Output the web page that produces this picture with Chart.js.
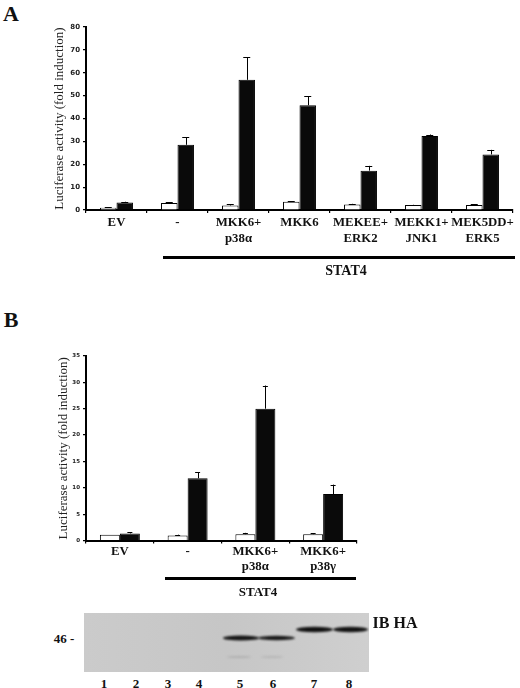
<!DOCTYPE html>
<html><head><meta charset="utf-8">
<script src="https://cdn.jsdelivr.net/npm/chart.js@4.4.1/dist/chart.umd.min.js"></script>
<style>
html,body{margin:0;padding:0;background:#fff;}
body{width:520px;height:688px;position:relative;overflow:hidden;font-family:'Liberation Serif','Times New Roman',serif;}
canvas{position:absolute;}
.lbl{position:absolute;font-weight:bold;color:#111;white-space:nowrap;transform:translate(-50%,-50%);line-height:1;}
.rule{position:absolute;background:#000;}
</style></head><body>
<canvas id="cA" width="472" height="290" style="left:48px;top:0px;width:472px;height:290px;"></canvas>
<canvas id="cB" width="318" height="300" style="left:52px;top:300px;width:318px;height:300px;"></canvas>
<canvas id="blot" width="285" height="59" style="left:84px;top:613px;width:285px;height:59px;"></canvas>

<div class="lbl" style="left:11px;top:14px;font-size:22px;">A</div>
<div class="lbl" style="left:11px;top:320px;font-size:22px;">B</div>

<div class="rule" style="left:163px;top:255.5px;width:352px;height:3px;"></div>
<div class="lbl" style="left:346px;top:271px;font-size:14px;">STAT4</div>
<div class="rule" style="left:165px;top:576.5px;width:191px;height:3px;"></div>
<div class="lbl" style="left:258px;top:591px;font-size:13px;">STAT4</div>

<div class="lbl" style="left:64px;top:638px;font-size:13px;">46 -</div>
<div class="lbl" style="left:395px;top:623px;font-size:16px;">IB HA</div>
<div id="lanes"></div>

<script>
// ---------- Data ----------
const categoriesA = ['EV', '-', ['MKK6+', 'p38α'], 'MKK6', ['MEKEE+', 'ERK2'], ['MEKK1+', 'JNK1'], ['MEK5DD+', 'ERK5']];
const whiteA    = [1.0, 3.1, 2.0, 3.6, 2.4, 2.2, 2.2];
const whiteErrA = [0.2, 0.2, 0.5, 0.3, 0.3, 0.1, 0.3];
const blackA    = [3.3, 28.5, 56.9, 45.8, 17.2, 32.3, 24.3];
const blackErrA = [0.3, 3.2, 9.9, 3.9, 2.1, 0.7, 2.0];
const yTicksA   = [0, 10, 20, 30, 40, 50, 60, 70, 80];

const categoriesB = ['EV', '-', ['MKK6+', 'p38α'], ['MKK6+', 'p38γ']];
const whiteB    = [1.1, 0.95, 1.2, 1.2];
const whiteErrB = [0.0, 0.15, 0.25, 0.15];
const blackB    = [1.35, 11.8, 25.0, 8.8];
const blackErrB = [0.25, 1.1, 4.4, 1.8];
const yTicksB   = [0, 5, 10, 15, 20, 25, 30, 35];

const laneNumbers = ['1', '2', '3', '4', '5', '6', '7', '8'];
const yTitle = 'Luciferase activity (fold induction)';

// ---------- Error bar plugin ----------
const errorBars = {
  id: 'errorBars',
  afterDatasetsDraw(chart, args, opts) {
    const ctx = chart.ctx, y = chart.scales.y;
    chart.data.datasets.forEach((ds, i) => {
      const meta = chart.getDatasetMeta(i);
      meta.data.forEach((bar, j) => {
        const err = ds.errors[j];
        if (!err) return;
        const top = y.getPixelForValue(ds.data[j] + err);
        ctx.save();
        ctx.strokeStyle = '#000';
        ctx.lineWidth = 1;
        ctx.beginPath();
        ctx.moveTo(Math.round(bar.x) + 0.5, bar.y);
        ctx.lineTo(Math.round(bar.x) + 0.5, top);
        ctx.moveTo(bar.x - opts.cap, Math.round(top) + 0.5);
        ctx.lineTo(bar.x + opts.cap, Math.round(top) + 0.5);
        ctx.stroke();
        ctx.restore();
      });
    });
  }
};

function makeChart(id, cfg) {
  return new Chart(document.getElementById(id), {
    type: 'bar',
    data: {
      labels: cfg.labels,
      datasets: [
        { data: cfg.white, errors: cfg.whiteErr, backgroundColor: '#ffffff', borderColor: '#000', borderWidth: 1,
          borderSkipped: 'bottom', categoryPercentage: cfg.catPct, barPercentage: 1 },
        { data: cfg.black, errors: cfg.blackErr, backgroundColor: '#0a0a0a', borderColor: '#000', borderWidth: 1,
          borderSkipped: 'bottom', categoryPercentage: cfg.catPct, barPercentage: 1 }
      ]
    },
    options: {
      responsive: false,
      animation: false,
      devicePixelRatio: 1,
      layout: { padding: { top: cfg.padTop, right: cfg.padRight, bottom: 0, left: 0 } },
      plugins: { legend: { display: false }, tooltip: { enabled: false }, errorBars: { cap: cfg.cap } },
      scales: {
        x: {
          grid: { display: true, drawOnChartArea: false, drawTicks: true, tickLength: 3, color: '#000', lineWidth: 1.2 },
          border: { display: true, color: '#000', width: 2 },
          ticks: {
            autoSkip: false, maxRotation: 0, minRotation: 0, padding: cfg.xPad, color: '#111',
            font: { family: "'Liberation Serif','Times New Roman',serif", size: 12.8, weight: 'bold', lineHeight: cfg.lh + 'px' }
          },
          afterFit(s) { s.height = cfg.xHeight; }
        },
        y: {
          min: 0, max: cfg.yTicks[cfg.yTicks.length - 1],
          afterBuildTicks(s) { s.ticks = cfg.yTicks.map(v => ({ value: v })); },
          grid: { display: true, drawOnChartArea: false, drawTicks: true, tickLength: 3, color: '#000', lineWidth: 1.2 },
          border: { display: true, color: '#000', width: 2 },
          ticks: { padding: 3, color: '#222', font: { family: "'DejaVu Sans',Arial,sans-serif", size: cfg.tickSize, weight: 'bold' } },
          title: { display: true, text: yTitle, color: '#222', padding: { top: 4, bottom: 0 },
                   font: { family: "'Liberation Serif','Times New Roman',serif", size: 13 } },
          afterFit(s) { s.width = cfg.yWidth; }
        }
      }
    },
    plugins: [errorBars]
  });
}

makeChart('cA', { labels: categoriesA, white: whiteA, whiteErr: whiteErrA, black: blackA, blackErr: blackErrA,
  yTicks: yTicksA, catPct: 0.54, padTop: 27, padRight: 7, xHeight: 80, yWidth: 38, xPad: 2, lh: 16, tickSize: 7, cap: 3.5 });
makeChart('cB', { labels: categoriesB, white: whiteB, whiteErr: whiteErrB, black: blackB, blackErr: blackErrB,
  yTicks: yTicksB, catPct: 0.59, padTop: 56, padRight: 13, xHeight: 59.5, yWidth: 34, xPad: 1, lh: 15, tickSize: 5.5, cap: 2.5 });

// ---------- Western blot image (illustration) ----------
(function () {
  const c = document.getElementById('blot'), g = c.getContext('2d');
  const grd = g.createLinearGradient(0, 0, 285, 0);
  grd.addColorStop(0, '#cbcbcb'); grd.addColorStop(0.5, '#c6c6c6'); grd.addColorStop(1, '#cfcfcf');
  g.fillStyle = grd; g.fillRect(0, 0, 285, 59);
  function band(x, y, w, h, col) {
    g.save(); g.filter = 'blur(0.8px)'; g.fillStyle = col;
    g.beginPath(); g.ellipse(x + w / 2, y, w / 2, h / 2, 0, 0, Math.PI * 2); g.fill(); g.restore();
  }
  band(139, 25, 36, 5, '#141414'); band(174, 25, 37, 4.5, '#181818');
  band(212, 16.5, 37, 5.5, '#111'); band(249, 16.5, 35, 5.5, '#131313');
  band(143, 44, 24, 2, '#b0b0b0'); band(177, 44, 22, 2, '#b6b6b6');
})();

const laneX = [104, 136, 168, 199, 240, 273, 314, 349];
const lanes = document.getElementById('lanes');
laneNumbers.forEach((t, i) => {
  const d = document.createElement('div');
  d.className = 'lbl'; d.style.left = laneX[i] + 'px'; d.style.top = '683px'; d.style.fontSize = '13px';
  d.textContent = t; lanes.appendChild(d);
});
</script>
</body></html>
